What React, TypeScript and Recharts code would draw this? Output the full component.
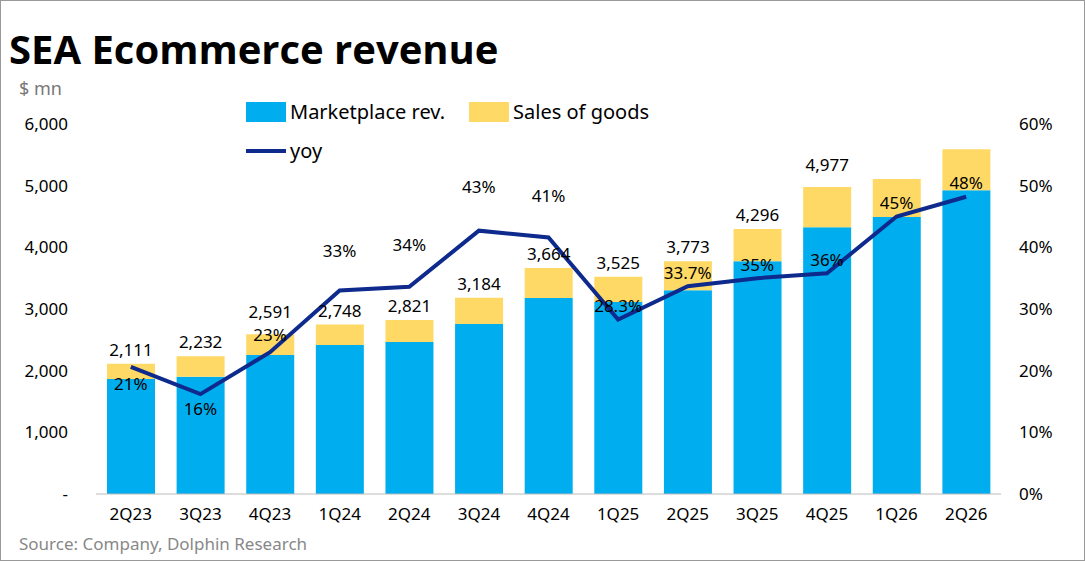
import React from "react";
import { ComposedChart, Bar, Line, XAxis, YAxis, CartesianGrid, LabelList } from "recharts";

const quarters = ["2Q23","3Q23","4Q23","1Q24","2Q24","3Q24","4Q24","1Q25","2Q25","3Q25","4Q25","1Q26","2Q26"];
const marketplace = [1864,1900,2253,2415,2463,2755,3177,3112,3306,3776,4327,4490,4927];
const totals = [2111,2232,2591,2748,2821,3184,3664,3525,3773,4296,4977,5110,5590];
const totalLabels = ["2,111","2,232","2,591","2,748","2,821","3,184","3,664","3,525","3,773","4,296","4,977","",""];
const yoy = [20.6,16.2,23,33,33.6,42.7,41.6,28.3,33.7,35,35.8,45,48.2];
const yoyLabels = ["21%","16%","23%","33%","34%","43%","41%","28.3%","33.7%","35%","36%","45%","48%"];
const yoyOffsets = [18,16,-16,-38,-40,-42,-40,-2,-2,-2,-2,-2,-2];
const totalOffsets = [-8,-8,-16,-8,-8,-8,-8,-8,-8,-8,-16,-8,-8];

const data = quarters.map((q, i) => ({
  q, mk: marketplace[i], sg: totals[i] - marketplace[i], yoy: yoy[i],
}));

const font = "'Noto Sans', sans-serif";

const TotalLabel = (p: any) => {
  const { x, y, width, index } = p;
  const t = totalLabels[index];
  if (!t) return null;
  return <text x={x + width / 2} y={y + totalOffsets[index]} textAnchor="middle" fontSize={17} fill="#000" fontFamily={font}>{t}</text>;
};
const YoyLabel = (p: any) => {
  const { x, y, index } = p;
  const inBar = index >= 7;
  return <text x={x} y={inBar ? y - 12 : y + yoyOffsets[index]} textAnchor="middle" fontSize={17} fill="#000" fontFamily={font} dominantBaseline="middle">{yoyLabels[index]}</text>;
};

export default function App() {
  return (
    <div style={{ position: "absolute", left: 0, top: 0, width: 1085, height: 561, background: "#fff", fontFamily: font, boxSizing: "border-box", border: "1px solid #999" }}>
      <div style={{ position: "absolute", left: 8, top: 20, fontSize: 40, fontWeight: 700, color: "#000", fontFamily: "'Open Sans', sans-serif" }}>SEA Ecommerce revenue</div>
      <div style={{ position: "absolute", left: 18, top: 75, fontSize: 18, color: "#777" }}>$ mn</div>
      <div style={{ position: "absolute", left: 18, top: 531, fontSize: 17, color: "#888" }}>Source: Company, Dolphin Research</div>
      <div style={{ position: "absolute", left: 245, top: 97, fontSize: 20, color: "#000", display: "flex", alignItems: "center" }}>
        <span style={{ width: 40, height: 20, background: "#00AEEF", display: "inline-block", marginRight: 4 }} />Marketplace rev.
        <span style={{ width: 40, height: 20, background: "#FFD966", display: "inline-block", marginLeft: 24, marginRight: 4 }} />Sales of goods
      </div>
      <div style={{ position: "absolute", left: 245, top: 136, fontSize: 20, color: "#000", display: "flex", alignItems: "center" }}>
        <span style={{ width: 40, height: 4, background: "#0E2A8C", display: "inline-block", marginRight: 4 }} />yoy
      </div>
      <div style={{ position: "absolute", left: 0, top: 0 }}>
        <ComposedChart width={1085} height={561} data={data} margin={{ top: 123, bottom: 38, left: 15, right: 15 }}>
          <CartesianGrid vertical={false} horizontal={false} />
          <XAxis dataKey="q" height={30} tickLine={false} axisLine={{ stroke: "#bbb" }} tick={{ fontSize: 17, fill: "#000", fontFamily: font }} interval={0} tickMargin={8} />
          <YAxis yAxisId="l" width={80} domain={[0, 6000]} ticks={[0,1000,2000,3000,4000,5000,6000]} tickFormatter={(v: number) => v === 0 ? "-" : v.toLocaleString("en-US")} axisLine={false} tickLine={false} tick={{ fontSize: 17, fill: "#000", fontFamily: font }} tickMargin={22} />
          <YAxis yAxisId="r" orientation="right" width={70} domain={[0, 60]} ticks={[0,10,20,30,40,50,60]} tickFormatter={(v: number) => v + "%"} axisLine={false} tickLine={false} tick={{ fontSize: 17, fill: "#000", fontFamily: font }} tickMargin={12} />
          <Bar yAxisId="l" dataKey="mk" stackId="a" fill="#00AEEF" barSize={48} isAnimationActive={false} />
          <Bar yAxisId="l" dataKey="sg" stackId="a" fill="#FFD966" barSize={48} isAnimationActive={false}>
            <LabelList content={TotalLabel} />
          </Bar>
          <Line yAxisId="r" dataKey="yoy" stroke="#0E2A8C" strokeWidth={4} dot={false} isAnimationActive={false}>
            <LabelList content={YoyLabel} />
          </Line>
        </ComposedChart>
      </div>
    </div>
  );
}
